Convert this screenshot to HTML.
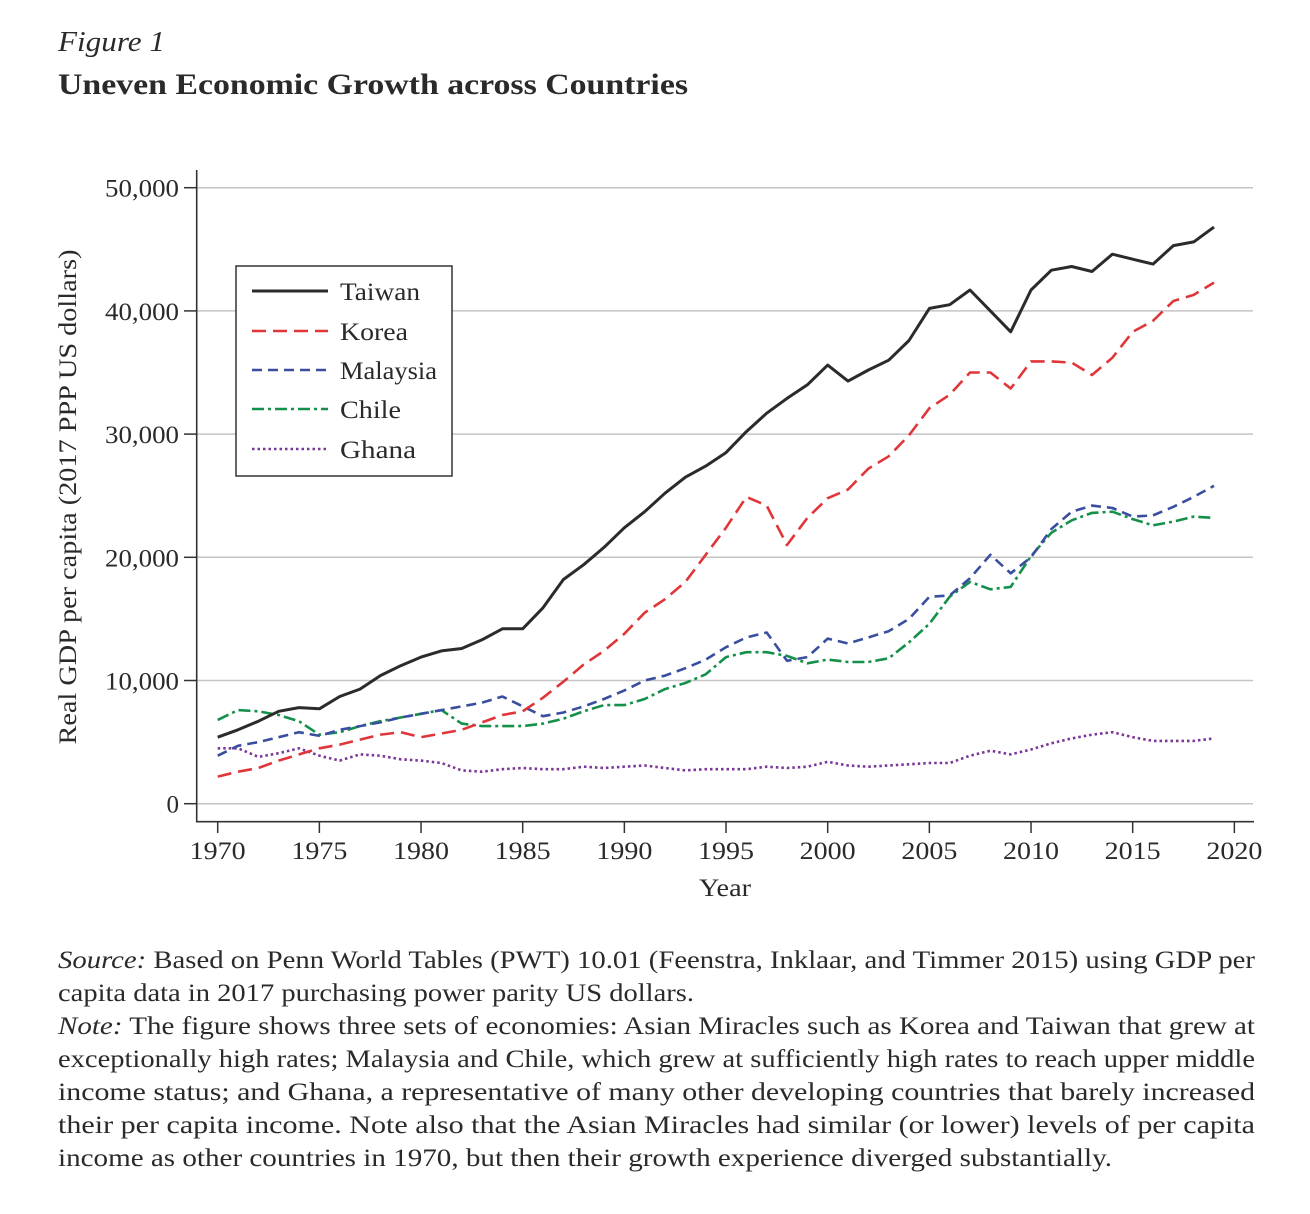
<!DOCTYPE html>
<html><head><meta charset="utf-8"><style>
html,body{margin:0;padding:0;background:#fff}
svg{display:block}
text{font-family:"Liberation Serif",serif;fill:#2a2a2a}
</style></head><body>
<svg id="fig" width="1310" height="1214" viewBox="0 0 1310 1214">
<text x="58" y="51" font-size="29" font-style="italic" textLength="107" lengthAdjust="spacingAndGlyphs">Figure 1</text>
<text x="58" y="94" font-size="30" font-weight="bold" textLength="630" lengthAdjust="spacingAndGlyphs">Uneven Economic Growth across Countries</text>
<g id="grid"></g>
<g id="axes"></g>
<g id="series"></g>
<g>
<rect x="236" y="266" width="216" height="210" fill="#fff" stroke="#333" stroke-width="1.5"/>
<g><line x1="252" y1="291" x2="328" y2="291" stroke="#2b2b2b" stroke-width="3"/><text x="340" y="300" font-size="25" textLength="80" lengthAdjust="spacingAndGlyphs">Taiwan</text></g>
<g><line x1="252" y1="331" x2="328" y2="331" stroke="#e0363a" stroke-width="2.6" stroke-dasharray="14,7"/><text x="340" y="340" font-size="25" textLength="68" lengthAdjust="spacingAndGlyphs">Korea</text></g>
<g><line x1="252" y1="370" x2="328" y2="370" stroke="#3a4ea0" stroke-width="2.6" stroke-dasharray="10,6"/><text x="340" y="379" font-size="25" textLength="97" lengthAdjust="spacingAndGlyphs">Malaysia</text></g>
<g><line x1="252" y1="409" x2="328" y2="409" stroke="#14904a" stroke-width="2.6" stroke-dasharray="12,4,3,4"/><text x="340" y="418" font-size="25" textLength="61" lengthAdjust="spacingAndGlyphs">Chile</text></g>
<g><line x1="252" y1="449" x2="328" y2="449" stroke="#7b3596" stroke-width="2.6" stroke-dasharray="2.5,3"/><text x="340" y="458" font-size="25" textLength="76" lengthAdjust="spacingAndGlyphs">Ghana</text></g>
</g>
<text transform="translate(76,497) rotate(-90)" text-anchor="middle" font-size="25" textLength="495" lengthAdjust="spacingAndGlyphs">Real GDP per capita (2017 PPP US dollars)</text>
<text x="725" y="896" text-anchor="middle" font-size="25" textLength="52" lengthAdjust="spacingAndGlyphs">Year</text>
<g font-size="25">
<text x="58" y="968" textLength="1197" lengthAdjust="spacingAndGlyphs"><tspan font-style="italic">Source:</tspan> Based on Penn World Tables (PWT) 10.01 (Feenstra, Inklaar, and Timmer 2015) using GDP per</text>
<text x="58" y="1001" textLength="636" lengthAdjust="spacingAndGlyphs">capita data in 2017 purchasing power parity US dollars.</text>
<text x="58" y="1034" textLength="1197" lengthAdjust="spacingAndGlyphs"><tspan font-style="italic">Note:</tspan> The figure shows three sets of economies: Asian Miracles such as Korea and Taiwan that grew at</text>
<text x="58" y="1067" textLength="1197" lengthAdjust="spacingAndGlyphs">exceptionally high rates; Malaysia and Chile, which grew at sufficiently high rates to reach upper middle</text>
<text x="58" y="1100" textLength="1197" lengthAdjust="spacingAndGlyphs">income status; and Ghana, a representative of many other developing countries that barely increased</text>
<text x="58" y="1133" textLength="1197" lengthAdjust="spacingAndGlyphs">their per capita income. Note also that the Asian Miracles had similar (or lower) levels of per capita</text>
<text x="58" y="1166" textLength="1054" lengthAdjust="spacingAndGlyphs">income as other countries in 1970, but then their growth experience diverged substantially.</text>
</g>
</svg>
<script>
const startYear = 1970;
const taiwan = [5400,6000,6700,7500,7800,7700,8700,9300,10400,11200,11900,12400,12600,13300,14200,14200,15900,18200,19400,20800,22400,23700,25200,26500,27400,28500,30200,31700,32900,34000,35600,34300,35200,36000,37600,40200,40500,41700,40000,38300,41700,43300,43600,43200,44600,44200,43800,45300,45600,46800];
const korea = [2200,2600,2900,3500,4000,4500,4800,5200,5600,5800,5400,5700,6000,6600,7200,7500,8600,9900,11300,12400,13800,15500,16600,18000,20200,22400,24900,24200,21000,23200,24800,25500,27200,28200,29900,32100,33200,35000,35000,33700,35900,35900,35800,34800,36200,38300,39200,40800,41300,42300];
const malaysia = [3900,4700,5000,5400,5800,5500,6000,6300,6600,7000,7300,7600,7900,8200,8700,7900,7100,7400,7900,8500,9200,10000,10400,11000,11700,12700,13500,13900,11600,11900,13400,13000,13500,14000,15000,16800,16900,18300,20200,18700,20000,22300,23700,24200,24000,23300,23400,24100,24900,25800];
const chile = [6800,7600,7500,7200,6700,5600,5800,6300,6700,7000,7300,7600,6500,6300,6300,6300,6500,6900,7500,8000,8000,8500,9300,9800,10500,11900,12300,12300,12000,11400,11700,11500,11500,11800,13100,14600,16800,18000,17400,17600,20100,22000,23000,23600,23700,23100,22600,22900,23300,23200];
const ghana = [4500,4500,3800,4100,4500,3900,3500,4000,3900,3600,3500,3300,2700,2600,2800,2900,2800,2800,3000,2900,3000,3100,2900,2700,2800,2800,2800,3000,2900,3000,3400,3100,3000,3100,3200,3300,3300,3900,4300,4000,4400,4900,5300,5600,5800,5400,5100,5100,5100,5300];
const yTicks = [0,10000,20000,30000,40000,50000];
const yTickLabels = ["0","10,000","20,000","30,000","40,000","50,000"];
const xTicks = [1970,1975,1980,1985,1990,1995,2000,2005,2010,2015,2020];

const NS = "http://www.w3.org/2000/svg";
const X = yr => 217.7 + (yr - 1970) * 20.333;
const Y = v => 803.7 - v * 0.01232;
function mk(tag, attrs, parent){const e=document.createElementNS(NS,tag);for(const k in attrs)e.setAttribute(k,attrs[k]);parent.appendChild(e);return e;}
const grid=document.getElementById('grid'), axes=document.getElementById('axes'), ser=document.getElementById('series');
yTicks.forEach((v,i)=>{
  const g=mk('line',{x1:197,x2:1253,y1:Y(v),y2:Y(v),stroke:'#c4c4c4','stroke-width':1.5},grid);
  
  
  const t=mk('line',{x1:184,x2:197,y1:Y(v),y2:Y(v),stroke:'#333','stroke-width':1.5},axes);
  
  
  const l=mk('text',{x:179,y:Y(v)+9,'text-anchor':'end','font-size':25},axes);
  if(yTickLabels[i].length>1){l.setAttribute('textLength',74);l.setAttribute('lengthAdjust','spacingAndGlyphs');}
  l.textContent=yTickLabels[i];
  
  
});
const ya=mk('line',{x1:196.7,x2:196.7,y1:170,y2:822.5,stroke:'#333','stroke-width':1.6},axes);


const xa=mk('line',{x1:196,x2:1254,y1:821.7,y2:821.7,stroke:'#333','stroke-width':1.6},axes);


xTicks.forEach(yr=>{
  const t=mk('line',{x1:X(yr),x2:X(yr),y1:821.7,y2:833,stroke:'#333','stroke-width':1.5},axes);
  
  
  const l=mk('text',{x:X(yr),y:859,'text-anchor':'middle','font-size':25,textLength:56,lengthAdjust:'spacingAndGlyphs'},axes);
  l.textContent=yr;
  
  
});
function draw(arr,name,color,dash,w){
  const d=arr.map((v,i)=>(i?'L':'M')+X(startYear+i).toFixed(1)+','+Y(v).toFixed(1)).join('');
  const p=mk('path',{d:d,fill:'none',stroke:color,'stroke-width':w,'stroke-linejoin':'round'},ser);
  if(dash)p.setAttribute('stroke-dasharray',dash);
  
  
}
draw(ghana,'line-ghana','#7b3596','2.5,3',2.6);
draw(chile,'line-chile','#14904a','12,4,3,4',2.6);
draw(malaysia,'line-malaysia','#3a4ea0','10,6',2.6);
draw(korea,'line-korea','#e0363a','14,7',2.6);
draw(taiwan,'line-taiwan','#2b2b2b',null,3);
</script>
</body></html>
